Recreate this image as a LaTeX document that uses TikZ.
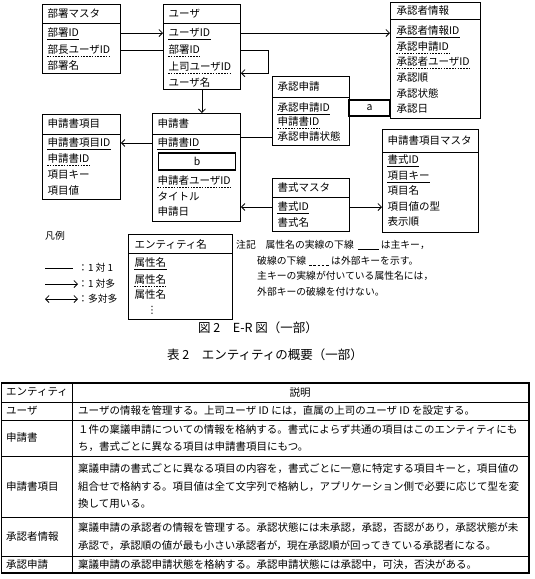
\documentclass[tikz,border=0pt]{standalone}
\usepackage{fontspec}
\setmainfont{Noto Sans CJK JP}
\newfontfamily\symfont{DejaVu Sans}
\usetikzlibrary{arrows.meta,positioning,calc}

\newcommand{\solidblank}{\hspace{4pt}\rule[-1.8pt]{21pt}{1.1pt}\hspace{2pt}}
\newcommand{\dseg}{\rule[-1.8pt]{2.6pt}{0.9pt}\hspace{1.6pt}}
\newcommand{\dashblank}{\hspace{3pt}\dseg\dseg\dseg\dseg\dseg\hspace{1pt}}

\tikzset{
  ent/.style={draw, line width=0.9pt, inner sep=0pt, anchor=north west},
  eline/.style={line width=0.9pt},
  ttl/.style={anchor=west, inner sep=0.5pt, font=\fontsize{10.5}{12}\selectfont},
  att/.style={anchor=west, inner xsep=0.3pt, inner ysep=1pt, text height=8.6pt, text depth=1.4pt, font=\fontsize{10.5}{12}\selectfont},
  pk/.style={append after command={\pgfextra{\draw[line width=0.6pt] (\tikzlastnode.south west) -- (\tikzlastnode.south east);}}},
  fk/.style={append after command={\pgfextra{\draw[line width=0.6pt, dash pattern=on 1.6pt off 1.2pt] (\tikzlastnode.south west) -- (\tikzlastnode.south east);}}},
  one/.style={line width=0.8pt},
  onemany/.style={line width=0.8pt, -{Straight Barb[length=3.5pt, width=7pt]}},
  manymany/.style={line width=0.8pt, {Straight Barb[length=3.5pt, width=7pt]}-{Straight Barb[length=3.5pt, width=7pt]}},
  relbox/.style={draw, line width=1.4pt, inner sep=0pt, font=\fontsize{10.5}{12}\selectfont},
  lgd/.style={inner sep=0pt, font=\fontsize{9.8}{12}\selectfont},
  capt/.style={inner sep=0pt, font=\fontsize{12.5}{14}\selectfont},
  tline/.style={line width=0.8pt},
  cell/.style={anchor=west, align=left, inner sep=0pt, font=\fontsize{10.5}{17.5}\selectfont}
}

\begin{document}
\begin{tikzpicture}[x=1pt, y=-1pt]
    \useasboundingbox (0,0) rectangle (535,579);

    % 部署マスタ
    \node[ent, minimum width=78pt, minimum height=69pt] (dept) at (42,4) {};
    \draw[eline] (dept.west |- 0,23) -- (dept.east |- 0,23);
    \node[ttl] (dept-t) at (47,14) {部署マスタ};
    \node[att, pk] (dept-id) at (47,33) {部署ID};
    \node[att, fk] (dept-boss) at (47,50) {部長ユーザID};
    \node[att] (dept-name) at (47,66) {部署名};

    % ユーザ
    \node[ent, minimum width=77pt, minimum height=85pt] (user) at (163,4) {};
    \draw[eline] (user.west |- 0,23) -- (user.east |- 0,23);
    \node[ttl] (user-t) at (168,14) {ユーザ};
    \node[att, pk] (user-id) at (168,33) {ユーザID};
    \node[att, fk] (user-dept) at (168,50) {部署ID};
    \node[att, fk] (user-boss) at (168,67) {上司ユーザID};
    \node[att] (user-name) at (168,83) {ユーザ名};

    % 承認者情報
    \node[ent, minimum width=90pt, minimum height=116pt] (ainfo) at (390,2) {};
    \draw[eline] (ainfo.west |- 0,19) -- (ainfo.east |- 0,19);
    \node[ttl] (ainfo-t) at (396,11) {承認者情報};
    \node[att, pk] (ainfo-id) at (396,31) {承認者情報ID};
    \node[att, fk] (ainfo-req) at (396,47) {承認申請ID};
    \node[att, fk] (ainfo-user) at (396,62) {承認者ユーザID};
    \node[att] (ainfo-ord) at (396,78) {承認順};
    \node[att] (ainfo-st) at (396,94) {承認状態};
    \node[att] (ainfo-date) at (396,109) {承認日};

    % 承認申請
    \node[ent, minimum width=77pt, minimum height=69pt] (areq) at (272,76) {};
    \draw[eline] (areq.west |- 0,97) -- (areq.east |- 0,97);
    \node[ttl] (areq-t) at (277,87) {承認申請};
    \node[att, pk] (areq-id) at (277,108) {承認申請ID};
    \node[att, fk] (areq-form) at (277,122) {申請書ID};
    \node[att] (areq-st) at (277,137) {承認申請状態};

    % 申請書
    \node[ent, minimum width=88pt, minimum height=108pt] (form) at (152,113) {};
    \draw[eline] (form.west |- 0,134) -- (form.east |- 0,134);
    \node[ttl] (form-t) at (157,124) {申請書};
    \node[att, pk] (form-id) at (157,143) {申請書ID};
    \node[relbox, minimum width=77pt, minimum height=17pt] (rel-b) at (197,161.5) {b};
    \node[att, fk] (form-user) at (157,181) {申請者ユーザID};
    \node[att] (form-title) at (157,197) {タイトル};
    \node[att] (form-date) at (157,212) {申請日};

    % 申請書項目
    \node[ent, minimum width=78pt, minimum height=85pt] (item) at (42,114) {};
    \draw[eline] (item.west |- 0,134) -- (item.east |- 0,134);
    \node[ttl] (item-t) at (47,124) {申請書項目};
    \node[att, pk] (item-id) at (47,143) {申請書項目ID};
    \node[att, fk] (item-form) at (47,159) {申請書ID};
    \node[att] (item-key) at (47,175) {項目キー};
    \node[att] (item-val) at (47,191) {項目値};

    % 書式マスタ
    \node[ent, minimum width=77pt, minimum height=53pt] (fmt) at (272,178) {};
    \draw[eline] (fmt.west |- 0,197) -- (fmt.east |- 0,197);
    \node[ttl] (fmt-t) at (277,188) {書式マスタ};
    \node[att, pk] (fmt-id) at (277,207) {書式ID};
    \node[att] (fmt-name) at (277,223) {書式名};

    % 申請書項目マスタ
    \node[ent, minimum width=96pt, minimum height=103pt] (imst) at (382,129) {};
    \draw[eline] (imst.west |- 0,152) -- (imst.east |- 0,152);
    \node[ttl] (imst-t) at (387,141) {申請書項目マスタ};
    \node[att, pk] (imst-fmt) at (387,160) {書式ID};
    \node[att, pk] (imst-key) at (387,176) {項目キー};
    \node[att] (imst-name) at (387,191) {項目名};
    \node[att] (imst-type) at (387,207) {項目値の型};
    \node[att] (imst-ord) at (387,222) {表示順};

    % connectors
    \draw[onemany] (dept-id -| dept.east) -- (dept-id -| user.west);
    \draw[one] (dept-boss -| dept.east) -- (dept-boss -| user.west);
    \draw[onemany] (user-dept -| user.east) -- ++(27,0) |- (user-boss.south -| user.east);
    \draw[onemany] (user-id -| user.east) -- (user-id -| ainfo.west);
    \draw[onemany] (user.south) -- (user.south |- form.north);
    \draw[onemany] (form-id -| form.west) -- (form-id -| item.east);
    \draw[one] (areq-st -| form.east) -- (areq-st -| areq.west);
    \draw[onemany] (fmt-id -| fmt.west) -- (fmt-id -| form.east);
    \draw[onemany] (fmt-id -| fmt.east) -- (fmt-id -| imst.west);
    \node[relbox, minimum width=41pt, minimum height=16pt] (rel-a) at (369.5,108) {a};

    % 凡例
    \node[lgd] (lg-t) at (55,236) {凡例};
    \coordinate (lg1s) at (45,268);
    \coordinate (lg2s) at (45,284);
    \coordinate (lg3s) at (45,299);
    \node[lgd, anchor=west] (lg1) at (78,268) {：1 対 1};
    \node[lgd, anchor=west] (lg2) at (78,284) {：1 対多};
    \node[lgd, anchor=west] (lg3) at (78,299) {：多対多};
    \draw[one, shorten >=5pt] (lg1s) -- (lg1.west);
    \draw[onemany] (lg2s) -- (lg2.west);
    \draw[manymany] (lg3s) -- (lg3.west);

    \node[ent, minimum width=104pt, minimum height=85pt] (lgent) at (128,234) {};
    \draw[eline] (lgent.west |- 0,253) -- (lgent.east |- 0,253);
    \node[ttl] (lgent-t) at (134,244) {エンティティ名};
    \node[att, pk] (lgent-a) at (134,263) {属性名};
    \node[att, fk] (lgent-b) at (134,280) {属性名};
    \node[att] (lgent-c) at (134,295) {属性名};
    \node[inner sep=0pt, font=\symfont\fontsize{10}{10}\selectfont] (lgent-d) at (152,310) {⋮};

    % 注記
    \node[lgd, anchor=north west, align=left, font=\fontsize{9.8}{15.7}\selectfont] (note) at (236,240)
        {注記　属性名の実線の下線\solidblank は主キー，\\
         \hspace*{21pt}破線の下線\dashblank は外部キーを示す。\\
         \hspace*{21pt}主キーの実線が付いている属性名には，\\
         \hspace*{21pt}外部キーの破線を付けない。};

    \node[capt] (fig-cap) at (258,328) {図 2　E-R 図（一部）};
    \node[capt] (tab-cap) at (265,355) {表 2　エンティティの概要（一部）};

    % 表2
    \draw[line width=1.1pt] (1.5,383) rectangle (529,573);
    \foreach \y in {402,420,456,517,556}
        \draw[tline] (1.5,\y) -- (529,\y);
    \draw[tline] (72,383) -- (72,573);

    \node[cell] (h-ent) at (6,392.5) {エンティティ};
    \node[cell, anchor=center] (h-desc) at (300,392.5) {説明};
    \node[cell] (n-user) at (6,411) {ユーザ};
    \node[cell] (d-user) at (78,411) {ユーザの情報を管理する。上司ユーザ ID には，直属の上司のユーザ ID を設定する。};
    \node[cell] (n-form) at (6,438) {申請書};
    \node[cell] (d-form) at (78,438) {１件の稟議申請についての情報を格納する。書式によらず共通の項目はこのエンティティにも\\ち，書式ごとに異なる項目は申請書項目にもつ。};
    \node[cell] (n-item) at (6,486.5) {申請書項目};
    \node[cell] (d-item) at (78,486.5) {稟議申請の書式ごとに異なる項目の内容を，書式ごとに一意に特定する項目キーと，項目値の\\組合せで格納する。項目値は全て文字列で格納し，アプリケーション側で必要に応じて型を変\\換して用いる。};
    \node[cell] (n-ainfo) at (6,536.5) {承認者情報};
    \node[cell] (d-ainfo) at (78,536.5) {稟議申請の承認者の情報を管理する。承認状態には未承認，承認，否認があり，承認状態が未\\承認で，承認順の値が最も小さい承認者が，現在承認順が回ってきている承認者になる。};
    \node[cell] (n-areq) at (6,564.5) {承認申請};
    \node[cell] (d-areq) at (78,564.5) {稟議申請の承認申請状態を格納する。承認申請状態には承認中，可決，否決がある。};
\end{tikzpicture}
\end{document}
